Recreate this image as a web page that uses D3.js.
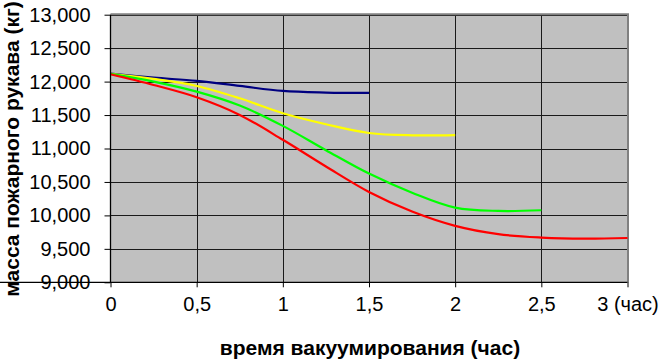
<!DOCTYPE html>
<html>
<head>
<meta charset="utf-8">
<script src="https://cdn.jsdelivr.net/npm/d3@7"></script>
<style>
  body { margin: 0; background: #fff; }
  svg { display: block; }
  text { font-family: "Liberation Sans", Arial, sans-serif; }
</style>
</head>
<body>
<svg id="chart" width="659" height="360"></svg>
<script>
// time, hours
var hours = [0, 0.25, 0.5, 0.75, 1, 1.25, 1.5, 1.75, 2, 2.25, 2.5, 2.75, 3];

// mass of the hose (kg) for each run; runs stop at different times
var massBlue   = [12120, 12060, 12010, 11935, 11860, 11836, 11830];
var massYellow = [12115, 12040, 11935, 11750, 11527, 11363, 11232, 11197, 11201];
var massGreen  = [12115, 12000, 11850, 11642, 11338, 10975, 10625, 10340, 10117, 10067, 10077];
var massRed    = [12110, 11950, 11766, 11502, 11130, 10731, 10350, 10057, 9843, 9719, 9669, 9652, 9662];

var xTicks = [0, 0.5, 1, 1.5, 2, 2.5, 3];
var yTicks = [9000, 9500, 10000, 10500, 11000, 11500, 12000, 12500, 13000];

(function() {
  var series = [
    {name: 'blue', color: '#000080', values: massBlue},
    {name: 'yellow', color: '#ffff00', values: massYellow},
    {name: 'green', color: '#00ff00', values: massGreen},
    {name: 'red', color: '#ff0000', values: massRed}
  ];

  var svg = d3.select('#chart');
  var plot = {left: 110.5, right: 627.5, top: 14.7, bottom: 282.3};

  var x = d3.scaleLinear().domain([0, 3]).range([plot.left, plot.right]);
  var y = d3.scaleLinear().domain([9000, 13000]).range([plot.bottom, plot.top]);

  // plot background
  svg.append('rect')
    .attr('x', plot.left).attr('y', plot.top)
    .attr('width', plot.right - plot.left).attr('height', plot.bottom - plot.top)
    .attr('fill', '#c0c0c0');

  // grid
  var grid = svg.append('g').attr('class', 'grid');
  grid.selectAll('line.h')
    .data(yTicks.slice(1))
    .enter().append('line')
    .attr('class', 'h')
    .attr('x1', plot.left).attr('x2', plot.right)
    .attr('y1', function(d) { return Math.round(y(d)) + 0.5; })
    .attr('y2', function(d) { return Math.round(y(d)) + 0.5; })
    .attr('stroke', '#1a1a1a').attr('stroke-width', 1);
  grid.selectAll('line.v')
    .data(xTicks.slice(1))
    .enter().append('line')
    .attr('class', 'v')
    .attr('y1', plot.top).attr('y2', plot.bottom)
    .attr('x1', function(d) { return Math.round(x(d)) + 0.5; })
    .attr('x2', function(d) { return Math.round(x(d)) + 0.5; })
    .attr('stroke', '#1a1a1a').attr('stroke-width', 1);

  // gray frame on top and right
  svg.append('path')
    .attr('d', 'M' + plot.left + ',' + (plot.top - 0.5) + 'H' + (plot.right + 0.5) + 'V' + plot.bottom)
    .attr('fill', 'none')
    .attr('stroke', '#808080')
    .attr('stroke-width', 2);

  // curves
  var line = d3.line()
    .x(function(d, i) { return x(hours[i]); })
    .y(function(d) { return y(d); })
    .curve(d3.curveCatmullRom.alpha(0.5));

  svg.append('g').attr('class', 'series')
    .selectAll('path')
    .data(series)
    .enter().append('path')
    .attr('d', function(s) { return line(s.values); })
    .attr('fill', 'none')
    .attr('stroke', function(s) { return s.color; })
    .attr('stroke-width', 2.2);

  // axes
  var fmtX = function(d) {
    var s = String(d).replace('.', ',');
    return d === 3 ? s + ' (час)' : s;
  };

  var xAxis = svg.append('g')
    .attr('transform', 'translate(0,' + plot.bottom + ')')
    .call(d3.axisBottom(x).tickValues(xTicks).tickSize(5).tickPadding(10).tickFormat(fmtX));

  var yAxis = svg.append('g')
    .attr('transform', 'translate(' + plot.left + ',0)')
    .call(d3.axisLeft(y).tickValues(yTicks).tickSize(6).tickPadding(14).tickFormat(d3.format(',')));

  [xAxis, yAxis].forEach(function(a) {
    a.select('.domain').attr('stroke', '#000').attr('stroke-width', 1.3);
    a.selectAll('.tick line').attr('stroke', '#000');
    a.selectAll('.tick text')
      .attr('fill', '#000')
      .style('font-size', '20px')
      .style('font-family', '"Liberation Sans", Arial, sans-serif');
  });
  yAxis.select('.domain').attr('d', 'M0,' + plot.top + 'V' + plot.bottom);
  xAxis.select('.domain').attr('d', 'M0,0H' + plot.right);

  // titles
  svg.append('text')
    .attr('x', 370).attr('y', 355)
    .attr('text-anchor', 'middle')
    .style('font-size', '21px')
    .style('font-weight', 'bold')
    .text('время вакуумирования (час)');

  svg.append('text')
    .attr('transform', 'translate(19,149) rotate(-90)')
    .attr('text-anchor', 'middle')
    .style('font-size', '21px')
    .style('font-weight', 'bold')
    .text('масса пожарного рукава (кг)');
})();
</script>
</body>
</html>
